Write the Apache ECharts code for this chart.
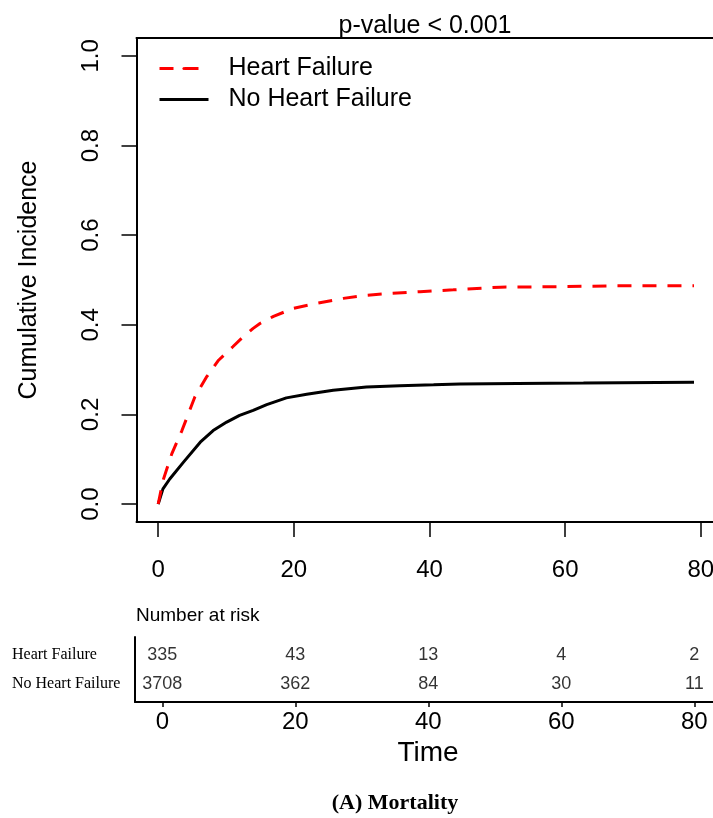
<!DOCTYPE html>
<html><head><meta charset="utf-8">
<script src="https://cdn.jsdelivr.net/npm/echarts@6/dist/echarts.min.js"></script>
<style>html,body{margin:0;padding:0;background:#fff}#c{width:713px;height:818px}</style>
</head><body><div id="c"></div>
<script>
// ---- data ----
const timeTicks = [0, 20, 40, 60, 80];
const ciTicks = [0, 0.2, 0.4, 0.6, 0.8, 1.0];
const seriesNames = ['Heart Failure', 'No Heart Failure'];
const hfTime = [0, 0.7, 2, 3.5, 5.4, 7.1, 8.9, 11, 12.5, 14, 15, 17, 20, 23.4, 27.3, 30.7, 34.2, 38.6, 43.5, 50.4, 57.8, 67.6, 79];
const hfCI   = [0, 0.052, 0.112, 0.164, 0.239, 0.283, 0.321, 0.351, 0.373, 0.392, 0.403, 0.419, 0.437, 0.448, 0.459, 0.466, 0.470, 0.474, 0.478, 0.484, 0.485, 0.487, 0.487];
const nhfTime = [0, 0.7, 1.7, 3.7, 6.2, 8.1, 10.1, 12, 14, 16, 18.9, 21.9, 25.8, 30.7, 35.6, 40.6, 44.5, 52.9, 62.7, 79];
const nhfCI   = [0, 0.034, 0.056, 0.093, 0.138, 0.164, 0.183, 0.198, 0.209, 0.222, 0.237, 0.245, 0.254, 0.261, 0.264, 0.266, 0.268, 0.269, 0.270, 0.272];
const riskTimes = [0, 20, 40, 60, 80];
const riskHF  = [335, 43, 13, 4, 2];
const riskNHF = [3708, 362, 84, 30, 11];
const riskRowNames = ['No Heart Failure', 'Heart Failure']; // row 0 (bottom), row 1 (top)

const SANS = 'Liberation Sans, Arial, sans-serif';
const SERIF = 'Liberation Serif, Times New Roman, serif';

const chart = echarts.init(document.getElementById('c'), null, {renderer: 'canvas'});
const pairs = (xs, ys) => xs.map((x, i) => [x, ys[i]]);
const frameLine = { show: true, onZero: false, lineStyle: { color: '#000', width: 2 } };

const option = {
  backgroundColor: '#fff',
  animation: false,
  title: [
    { text: 'p-value < 0.001', left: 420, top: 9, textAlign: 'center',
      textStyle: { fontFamily: SANS, fontSize: 25, fontWeight: 'normal', color: '#000' } },
    { text: '(A) Mortality', left: 390, top: 787, textAlign: 'center',
      textStyle: { fontFamily: SERIF, fontSize: 22, fontWeight: 'bold', color: '#000' } }
  ],
  legend: {
    orient: 'vertical', left: 158, top: 53, padding: 0, itemWidth: 49, itemHeight: 4, itemGap: 0,
    data: seriesNames,
    textStyle: { fontFamily: SANS, fontSize: 25, color: '#000', lineHeight: 27, padding: [4, 0, 0, 15] },
    lineStyle: { width: 3 }
  },
  grid: [
    { left: 136.5, top: 38, width: 586, height: 484, outerBoundsMode: 'none', containLabel: false },
    { left: 135, top: 637, width: 578, height: 65, outerBoundsMode: 'none', containLabel: false }
  ],
  xAxis: [
    { type: 'value', gridIndex: 0, min: -3.2, max: 83.2,
      axisLine: frameLine, splitLine: { show: false },
      axisTick: { show: true, customValues: timeTicks, length: 15, lineStyle: { color: '#000', width: 1.5 } },
      axisLabel: { customValues: timeTicks, margin: 36, fontFamily: SANS, fontSize: 24, color: '#000' } },
    { type: 'value', gridIndex: 1, min: -4.105, max: 82.81,
      name: 'Time', nameLocation: 'middle', nameGap: 37,
      nameTextStyle: { fontFamily: SANS, fontSize: 28, color: '#000', padding: [0, 0, 0, 8] },
      axisLine: frameLine, splitLine: { show: false },
      axisTick: { show: true, customValues: timeTicks, length: 5, lineStyle: { color: '#000', width: 1.5 } },
      axisLabel: { customValues: timeTicks, margin: 8, fontFamily: SANS, fontSize: 24, color: '#000' } },
    { type: 'value', gridIndex: 0, position: 'top', min: -3.2, max: 83.2,
      axisLine: frameLine, axisTick: { show: false }, axisLabel: { show: false }, splitLine: { show: false } }
  ],
  yAxis: [
    { type: 'value', gridIndex: 0, min: -0.04, max: 1.04,
      name: 'Cumulative Incidence', nameLocation: 'middle', nameGap: 95,
      nameTextStyle: { fontFamily: SANS, fontSize: 25, color: '#000' },
      axisLine: frameLine, splitLine: { show: false },
      axisTick: { show: true, customValues: ciTicks, length: 15, lineStyle: { color: '#000', width: 1.5 } },
      axisLabel: { customValues: ciTicks, rotate: 90, margin: 45, align: 'center', verticalAlign: 'middle',
        formatter: v => v.toFixed(1), fontFamily: SANS, fontSize: 24, color: '#000' } },
    { type: 'value', gridIndex: 1, min: -0.62, max: 1.621,
      name: 'Number at risk', nameLocation: 'end', nameGap: 12,
      nameTextStyle: { fontFamily: SANS, fontSize: 19, color: '#000', align: 'left', padding: [0, 0, 0, 1] },
      axisLine: frameLine, splitLine: { show: false },
      axisTick: { show: false },
      axisLabel: { customValues: [0, 1], margin: 123, align: 'left', formatter: v => riskRowNames[Math.round(v)],
        fontFamily: SERIF, fontSize: 16, color: '#000' } }
  ],
  series: [
    { name: seriesNames[0], type: 'line', xAxisIndex: 0, yAxisIndex: 0, data: pairs(hfTime, hfCI),
      symbol: 'none', lineStyle: { color: '#ff0000', width: 3, type: [14, 11] }, itemStyle: { color: '#ff0000' }, z: 3 },
    { name: seriesNames[1], type: 'line', xAxisIndex: 0, yAxisIndex: 0, data: pairs(nhfTime, nhfCI),
      symbol: 'none', lineStyle: { color: '#000', width: 3 }, itemStyle: { color: '#000' }, z: 2 },
    { name: 'riskHF', type: 'scatter', xAxisIndex: 1, yAxisIndex: 1, symbolSize: 1,
      itemStyle: { color: 'transparent' },
      data: riskTimes.map((t, i) => [t, 1, riskHF[i]]),
      label: { show: true, position: 'inside', formatter: p => String(p.data[2]), fontFamily: SANS, fontSize: 18, color: '#000' } },
    { name: 'riskNHF', type: 'scatter', xAxisIndex: 1, yAxisIndex: 1, symbolSize: 1,
      itemStyle: { color: 'transparent' },
      data: riskTimes.map((t, i) => [t, 0, riskNHF[i]]),
      label: { show: true, position: 'inside', formatter: p => String(p.data[2]), fontFamily: SANS, fontSize: 18, color: '#000' } }
  ]
};
chart.setOption(option);
</script></body></html>
